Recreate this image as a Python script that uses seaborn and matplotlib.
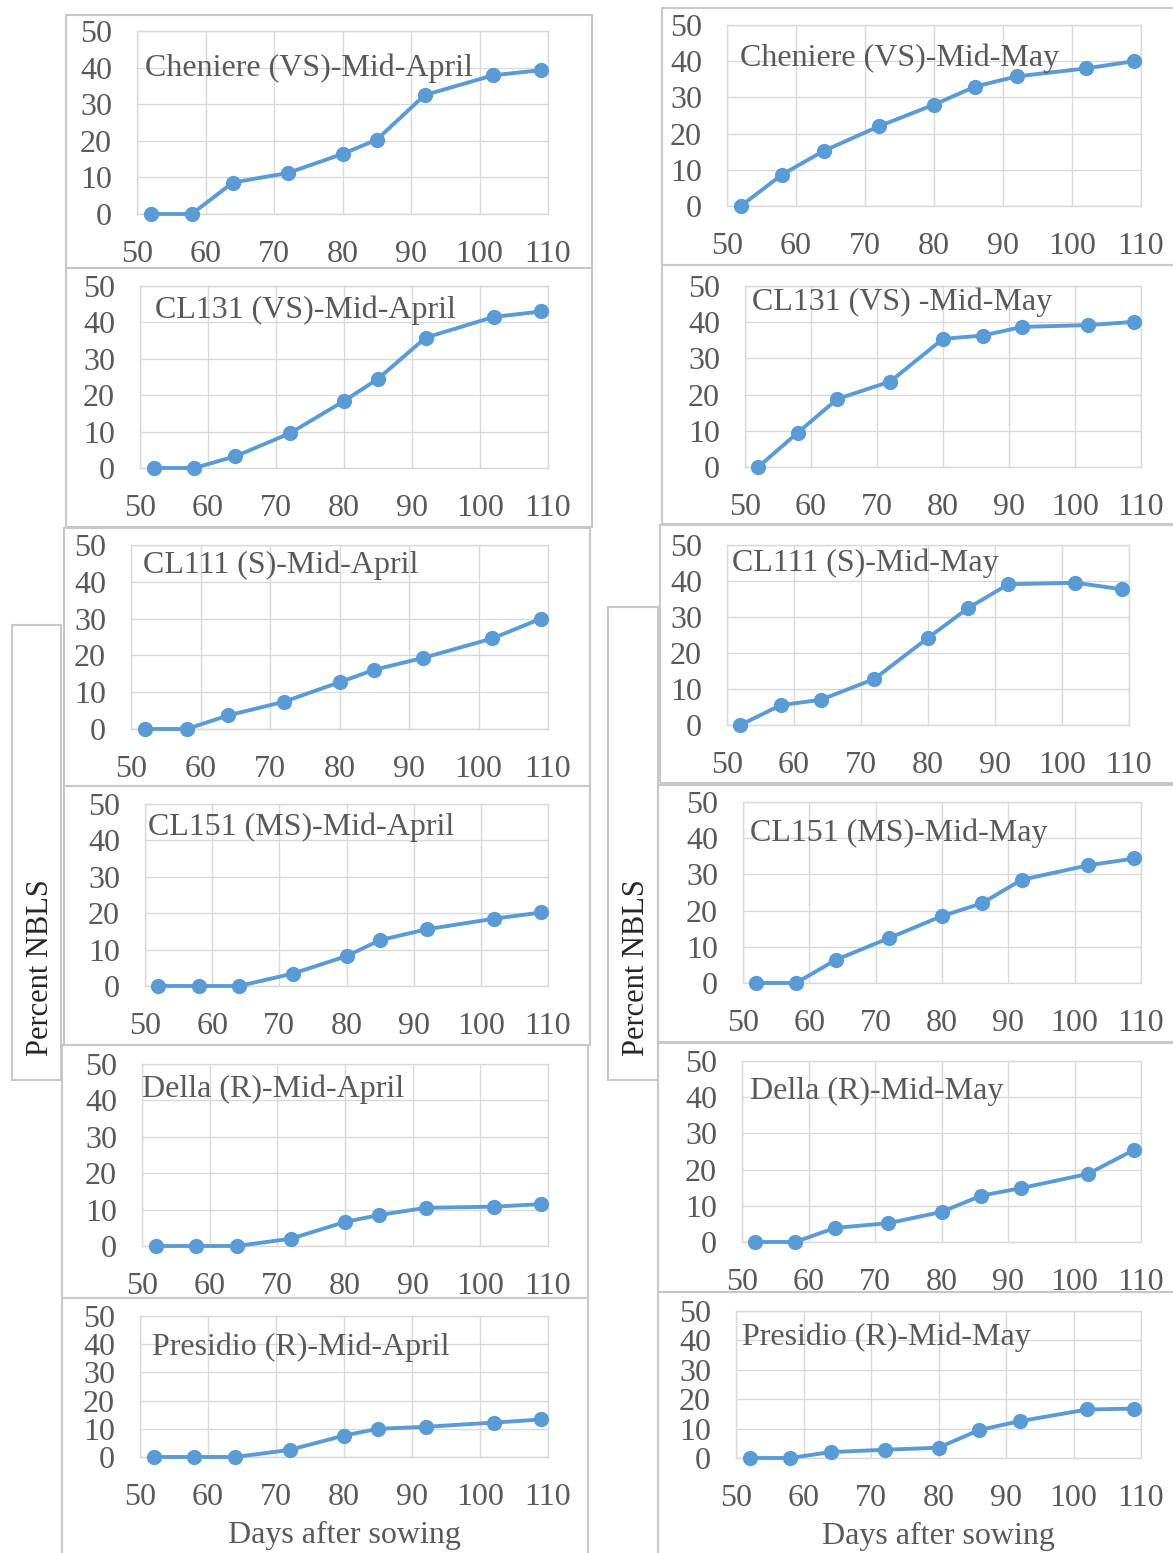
import matplotlib
matplotlib.use("Agg")
import matplotlib.pyplot as plt
import seaborn as sns
from matplotlib.patches import Rectangle

# Days after sowing (sampling dates)
days_april = [52, 58, 64, 72, 80, 85, 92, 102, 109]
days_may = [52, 58, 64, 72, 80, 86, 92, 102, 109]

# Percent NBLS, mid-April planting
cheniere_apr = [0, 0, 8.6, 11.2, 16.4, 20.3, 32.5, 37.9, 39.3]
cl131_apr = [0, 0, 3.2, 9.5, 18.4, 24.5, 35.8, 41.5, 43.0]
cl111_apr = [0, 0, 3.7, 7.4, 12.7, 16.1, 19.3, 24.6, 30.0]
cl151_apr = [0, 0, 0, 3.4, 8.2, 12.6, 15.6, 18.5, 20.2]
della_apr = [0, 0, 0, 2.0, 6.6, 8.5, 10.5, 10.8, 11.5]
presidio_apr = [0, 0, 0, 2.5, 7.6, 10.0, 10.7, 12.2, 13.3]

# Percent NBLS, mid-May planting
cheniere_may = [0, 8.7, 15.2, 22.0, 28.0, 33.0, 35.8, 38.0, 40.0]
cl131_may = [0, 9.5, 18.8, 23.6, 35.4, 36.3, 38.7, 39.2, 40.1]
cl111_may = [0, 5.5, 7.0, 12.8, 24.2, 32.5, 39.1, 39.5, 37.7]
cl151_may = [0, 0, 6.4, 12.4, 18.5, 22.0, 28.5, 32.5, 34.4]
della_may = [0, 0, 3.9, 5.2, 8.3, 12.8, 14.9, 18.8, 25.5]
presidio_may = [0, 0, 2.0, 2.8, 3.5, 9.5, 12.5, 16.5, 16.8]

titles_apr = ["Cheniere (VS)-Mid-April", "CL131 (VS)-Mid-April", "CL111 (S)-Mid-April",
              "CL151 (MS)-Mid-April", "Della (R)-Mid-April", "Presidio (R)-Mid-April"]
titles_may = ["Cheniere (VS)-Mid-May", "CL131 (VS) -Mid-May", "CL111 (S)-Mid-May",
              "CL151 (MS)-Mid-May", "Della (R)-Mid-May", "Presidio (R)-Mid-May"]

x_ticks = [50, 60, 70, 80, 90, 100, 110]
y_ticks = [0, 10, 20, 30, 40, 50]

W, H = 1173, 1553
BLUE = "#5B9BD5"
GREY_TXT = "#595959"
GRID = "#d9d9d9"

sns.set_style("white")
plt.rcParams['font.family'] = ['Liberation Serif', 'DejaVu Serif']

fig = plt.figure(figsize=(W / 100, H / 100), dpi=100)

# layout in pixels: chart box (x0, y0, x1, y1), plot area (x0, y0, x1, y1), title pos (x, y)
layout_apr = [
    ((66, 15, 592, 268), (137, 31, 548, 214), (145, 68)),
    ((66, 268, 592, 527), (140, 286, 548, 468), (155, 310)),
    ((64, 528, 590, 786), (131, 545, 548, 729), (143, 565)),
    ((64, 786, 590, 1045), (145, 804, 548, 986), (148, 827)),
    ((62, 1045, 588, 1298), (142, 1064, 548, 1246), (142, 1089)),
    ((62, 1298, 588, 1560), (140, 1316, 548, 1457), (152, 1347)),
]
layout_may = [
    ((662, 8, 1180, 265), (727, 25, 1141, 206), (740, 58)),
    ((662, 265, 1180, 524), (745, 286, 1141, 467), (752, 302)),
    ((660, 525, 1180, 783), (727, 545, 1129, 725), (732, 563)),
    ((658, 785, 1180, 1043), (743, 802, 1141, 983), (750, 833)),
    ((658, 1042, 1180, 1292), (742, 1061, 1141, 1242), (750, 1091)),
    ((658, 1292, 1180, 1560), (736, 1311, 1141, 1458), (742, 1337)),
]


def box(x0, y0, x1, y1):
    r = Rectangle((x0 / W, 1 - y1 / H), (x1 - x0) / W, (y1 - y0) / H,
                  transform=fig.transFigure, fill=False, edgecolor="#c8c8c8",
                  linewidth=1.5, zorder=0)
    fig.patches.append(r)


def panel(days, values, title, lay, xlabel=False):
    chart, area, tpos = lay
    box(*chart)
    x0, y0, x1, y1 = area
    ax = fig.add_axes([x0 / W, 1 - y1 / H, (x1 - x0) / W, (y1 - y0) / H])
    sns.lineplot(x=days, y=values, ax=ax, color=BLUE, linewidth=2.8,
                 marker="o", markersize=11, markeredgewidth=0, zorder=3)
    for ln in ax.lines:
        ln.set_clip_on(False)
    ax.set_xlim(50, 110)
    ax.set_ylim(0, 50)
    ax.set_xticks(x_ticks)
    ax.set_yticks(y_ticks)
    ax.grid(True, color=GRID, linewidth=1)
    for s in ax.spines.values():
        s.set_color(GRID)
        s.set_linewidth(1)
    ax.tick_params(axis="both", length=0, labelsize=23, labelcolor=GREY_TXT)
    ax.tick_params(axis="x", pad=19)
    ax.tick_params(axis="y", pad=18)
    ax.set_xlabel("")
    ax.set_ylabel("")
    if xlabel:
        ax.set_xlabel("Days after sowing", fontsize=23, color=GREY_TXT, labelpad=6)
    fig.text(tpos[0] / W, 1 - tpos[1] / H, title, fontsize=23, color=GREY_TXT,
             ha="left", va="center")
    return ax


apr_values = [cheniere_apr, cl131_apr, cl111_apr, cl151_apr, della_apr, presidio_apr]
may_values = [cheniere_may, cl131_may, cl111_may, cl151_may, della_may, presidio_may]

for i in range(6):
    panel(days_april, apr_values[i], titles_apr[i], layout_apr[i], xlabel=(i == 5))
    panel(days_may, may_values[i], titles_may[i], layout_may[i], xlabel=(i == 5))

# y-label text boxes
box(12, 625, 61, 1080)
box(608, 607, 658, 1080)
fig.text(41 / W, 1 - 968 / H, "Percent NBLS", rotation=90, fontsize=22,
         color="#262626", ha="center", va="center")
fig.text(637 / W, 1 - 968 / H, "Percent NBLS", rotation=90, fontsize=22,
         color="#262626", ha="center", va="center")

fig.savefig("out.png", dpi=100)
